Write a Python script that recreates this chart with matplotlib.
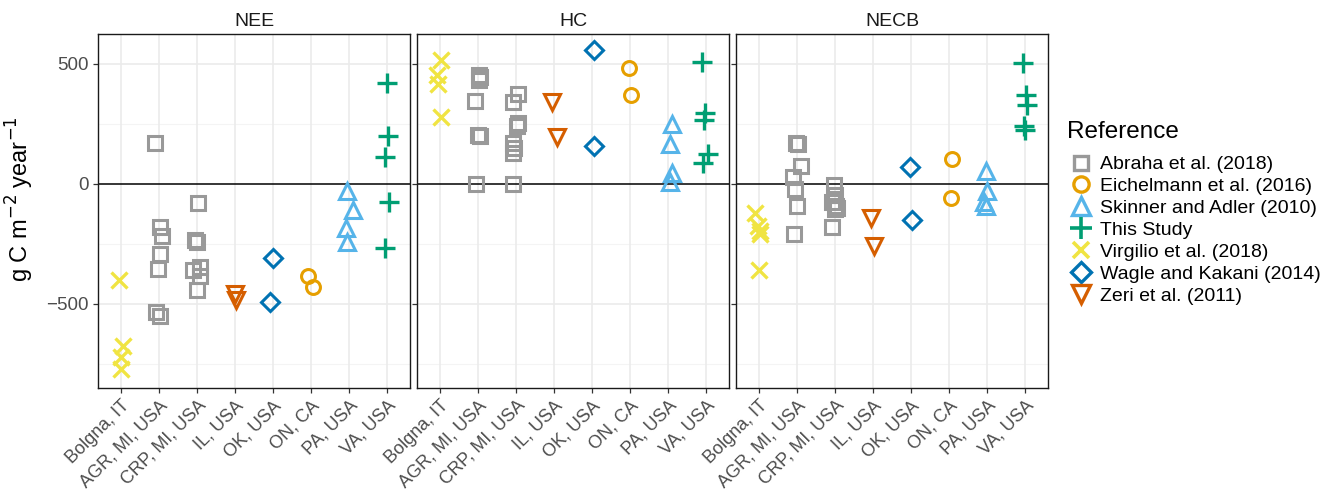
import matplotlib.pyplot as plt
import numpy as np
from matplotlib.lines import Line2D

plt.rcParams["font.family"] = ["Liberation Sans", "DejaVu Sans"]

sites = ["Bolgna, IT", "AGR, MI, USA", "CRP, MI, USA", "IL, USA",
         "OK, USA", "ON, CA", "PA, USA", "VA, USA"]
site_ref = ["Virgilio et al. (2018)", "Abraha et al. (2018)", "Abraha et al. (2018)",
            "Zeri et al. (2011)", "Wagle and Kakani (2014)", "Eichelmann et al. (2016)",
            "Skinner and Adler (2010)", "This Study"]
panels = ["NEE", "HC", "NECB"]

# values read per site (g C m-2 yr-1) and the horizontal jitter seen in the picture
nee_vals = [[-400, -675, -720, -770],
            [172, -180, -215, -290, -355, -535, -550],
            [-80, -235, -240, -345, -360, -385, -440],
            [-460, -485],
            [-310, -490],
            [-385, -430],
            [-30, -110, -185, -240],
            [420, 200, 113, -75, -268]]
nee_jit = [[-0.04, 0.05, 0.0, 0.0],
           [-0.09, 0.03, 0.09, 0.03, -0.01, -0.07, 0.04],
           [0.03, -0.04, 0.0, 0.07, -0.1, 0.07, 0.01],
           [0.0, 0.03],
           [0.0, -0.09],
           [-0.08, 0.04],
           [-0.05, 0.09, -0.09, -0.05],
           [0.0, 0.03, -0.06, 0.04, -0.05]]

hc_vals = [[515, 455, 415, 280],
           [455, 445, 435, 345, 205, 200, 0],
           [375, 340, 255, 240, 170, 150, 130, 0],
           [340, 195],
           [560, 160],
           [485, 370],
           [250, 165, 45, 10],
           [507, 297, 267, 127, 88]]
hc_jit = [[0.04, -0.07, -0.05, 0.02],
          [0.03, 0.05, 0.02, -0.08, 0.0, 0.05, -0.06],
          [0.06, -0.08, 0.06, 0.02, -0.07, -0.06, -0.07, -0.09],
          [-0.06, 0.07],
          [0.06, 0.04],
          [-0.04, 0.02],
          [0.09, 0.04, 0.09, 0.06],
          [-0.1, -0.03, -0.05, 0.04, -0.09]]

necb_vals = [[-120, -175, -195, -210, -360],
             [170, 165, 75, 30, -20, -90, -210],
             [-5, -45, -75, -90, -100, -105, -180],
             [-140, -260],
             [70, -150],
             [105, -60],
             [55, -30, -75, -90],
             [505, 370, 330, 240, 225]]
necb_jit = [[-0.09, -0.03, 0.03, 0.03, 0.0],
            [-0.02, 0.04, 0.1, -0.1, -0.05, 0.01, -0.08],
            [-0.03, 0.01, -0.07, 0.04, 0.06, 0.0, -0.07],
            [-0.04, 0.04],
            [-0.04, 0.02],
            [0.07, 0.04],
            [-0.04, -0.01, -0.08, -0.04],
            [-0.07, 0.02, 0.06, -0.03, 0.0]]

panel_vals = [nee_vals, hc_vals, necb_vals]
panel_jit = [nee_jit, hc_jit, necb_jit]

legend_order = ["Abraha et al. (2018)", "Eichelmann et al. (2016)", "Skinner and Adler (2010)",
                "This Study", "Virgilio et al. (2018)", "Wagle and Kakani (2014)", "Zeri et al. (2011)"]
ref_style = {
    "Abraha et al. (2018)": ("s", "#999999", 9.5, True),
    "Eichelmann et al. (2016)": ("o", "#E69F00", 10, True),
    "Skinner and Adler (2010)": ("^", "#56B4E9", 12, True),
    "This Study": ("+", "#009E73", 15, False),
    "Virgilio et al. (2018)": ("x", "#F0E442", 11, False),
    "Wagle and Kakani (2014)": ("D", "#0072B2", 9.5, True),
    "Zeri et al. (2011)": ("v", "#D55E00", 12, True),
}

fig = plt.figure(figsize=(13.37, 4.92), dpi=100)
lefts = [98, 417, 736]
grid_col = "#EBEBEB"

for p, name in enumerate(panels):
    ax = fig.add_axes([lefts[p] / 1337, 1 - 388 / 492, 312 / 1337, 354 / 492])
    ax.set_xlim(0.4, 8.6)
    ax.set_ylim(-850, 625)
    for yv in [-750, -250, 250]:
        ax.axhline(yv, color="#F4F4F4", lw=0.8, zorder=0)
    for yv in [-500, 500]:
        ax.axhline(yv, color=grid_col, lw=1.2, zorder=0)
    for xv in range(1, 9):
        ax.axvline(xv, color=grid_col, lw=1.2, zorder=0)
    ax.axhline(0, color="black", lw=1.1, zorder=1)

    for i, site in enumerate(sites):
        m, c, ms, open_mark = ref_style[site_ref[i]]
        xs = np.array(panel_jit[p][i]) + i + 1
        ys = panel_vals[p][i]
        if open_mark:
            ax.plot(xs, ys, ls="none", marker=m, ms=ms, mfc="none", mec=c, mew=2.2, zorder=3)
        else:
            ax.plot(xs, ys, ls="none", marker=m, ms=ms, color=c, mew=2.4, zorder=3)

    ax.set_xticks(range(1, 9))
    ax.set_xticklabels(sites, rotation=45, ha="right", va="top", rotation_mode="anchor",
                       fontsize=13, color="#4D4D4D")
    ax.set_yticks([-500, 0, 500])
    if p == 0:
        ax.set_yticklabels(["\u2212500", "0", "500"], fontsize=13.5, color="#4D4D4D")
        ax.set_ylabel("g C m$^{-2}$ year$^{-1}$", fontsize=17)
        ax.yaxis.set_label_coords(-0.2, 0.535)
    else:
        ax.set_yticklabels([])
    ax.tick_params(length=3.5, width=0.9, color="#333333", pad=3)
    for s in ax.spines.values():
        s.set_linewidth(1.0)
        s.set_color("#1A1A1A")
    ax.set_title(name, fontsize=14, color="#1A1A1A", pad=6)

handles = []
for r in legend_order:
    m, c, ms, open_mark = ref_style[r]
    if open_mark:
        h = Line2D([], [], ls="none", marker=m, ms=ms + 1, mfc="none", mec=c, mew=2.4)
    else:
        h = Line2D([], [], ls="none", marker=m, ms=ms + 1, color=c, mew=2.6)
    handles.append(h)
fig.text(1067 / 1337, 1 - 132 / 492, "Reference", fontsize=17.5, ha="left", va="center")
leg = fig.legend(handles, legend_order, loc="upper left", bbox_to_anchor=(1058 / 1337, 1 - 146 / 492),
                 frameon=False, fontsize=14,
                 handletextpad=0.25, labelspacing=0.22, handlelength=1.4, borderpad=0)

fig.savefig("out.png", dpi=100)
